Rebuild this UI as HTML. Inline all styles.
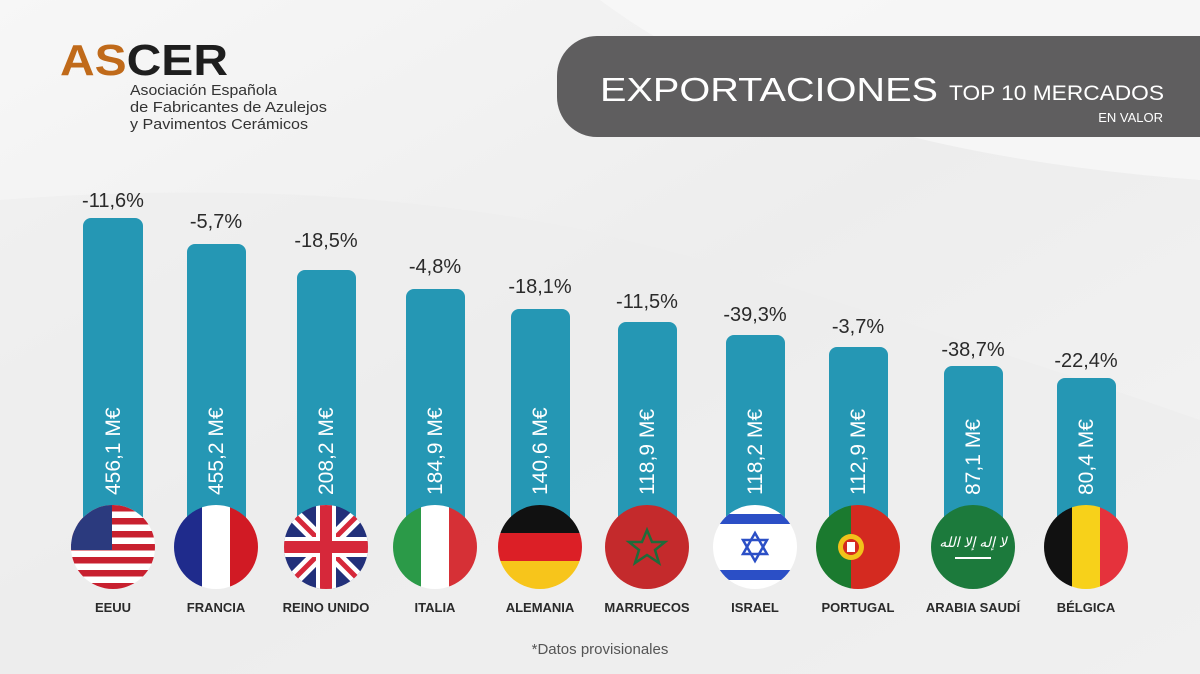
<!DOCTYPE html>
<html><head><meta charset="utf-8"><style>
html,body{margin:0;padding:0;background:#f3f3f3;}
svg{display:block;font-family:"Liberation Sans",sans-serif;}
</style></head><body>
<svg width="1200" height="674" viewBox="0 0 1200 674" xmlns="http://www.w3.org/2000/svg">
<defs>
<linearGradient id="bg" x1="0" y1="0" x2="1" y2="1">
<stop offset="0" stop-color="#f7f7f7"/><stop offset="0.5" stop-color="#ededed"/><stop offset="1" stop-color="#f4f4f4"/></linearGradient>
<clipPath id="c1"><circle cx="113" cy="547" r="42"/></clipPath>
<clipPath id="c2"><circle cx="216" cy="547" r="42"/></clipPath>
<clipPath id="c3"><circle cx="326" cy="547" r="42"/></clipPath>
<clipPath id="c4"><circle cx="435" cy="547" r="42"/></clipPath>
<clipPath id="c5"><circle cx="540" cy="547" r="42"/></clipPath>
<clipPath id="c6"><circle cx="647" cy="547" r="42"/></clipPath>
<clipPath id="c7"><circle cx="755" cy="547" r="42"/></clipPath>
<clipPath id="c8"><circle cx="858" cy="547" r="42"/></clipPath>
<clipPath id="c9"><circle cx="973" cy="547" r="42"/></clipPath>
<clipPath id="c10"><circle cx="1086" cy="547" r="42"/></clipPath>
</defs>
<rect width="1200" height="674" fill="url(#bg)"/>
<path d="M0 200 Q400 170 700 260 T1200 420 L1200 674 L0 674Z" fill="#ececec" opacity="0.6"/>
<path d="M600 0 Q800 150 1200 180 L1200 0Z" fill="#fafafa" opacity="0.7"/>

<!-- logo -->
<text x="60" y="75" font-size="44" font-weight="bold" textLength="168" lengthAdjust="spacingAndGlyphs"><tspan fill="#c06a1a">AS</tspan><tspan fill="#1e1e1e">CER</tspan></text>
<text x="130" y="95" font-size="15" fill="#333" textLength="147" lengthAdjust="spacingAndGlyphs">Asociación Española</text>
<text x="130" y="112" font-size="15" fill="#333" textLength="197" lengthAdjust="spacingAndGlyphs">de Fabricantes de Azulejos</text>
<text x="130" y="129" font-size="15" fill="#333" textLength="178" lengthAdjust="spacingAndGlyphs">y Pavimentos Cerámicos</text>

<!-- header -->
<rect x="557" y="36" width="700" height="101" rx="40" fill="#5f5e5f"/>
<text x="600" y="101" font-size="33" fill="#fff" textLength="338" lengthAdjust="spacingAndGlyphs">EXPORTACIONES</text>
<text x="949" y="100" font-size="21" fill="#fff" textLength="215" lengthAdjust="spacingAndGlyphs">TOP 10 MERCADOS</text>
<text x="1163" y="122" font-size="13" fill="#fff" text-anchor="end">EN VALOR</text>

<!-- bars -->
<g fill="#2597b4">
<rect x="83" y="218" width="60" height="330" rx="8"/>
<rect x="187" y="244" width="59" height="304" rx="8"/>
<rect x="297" y="270" width="59" height="278" rx="8"/>
<rect x="406" y="289" width="59" height="259" rx="8"/>
<rect x="511" y="309" width="59" height="239" rx="8"/>
<rect x="618" y="322" width="59" height="226" rx="8"/>
<rect x="726" y="335" width="59" height="213" rx="8"/>
<rect x="829" y="347" width="59" height="201" rx="8"/>
<rect x="944" y="366" width="59" height="182" rx="8"/>
<rect x="1057" y="378" width="59" height="170" rx="8"/>
</g>
<g font-size="20" fill="#2a2a2a" text-anchor="middle">
<text x="113" y="207">-11,6%</text>
<text x="216" y="228">-5,7%</text>
<text x="326" y="247">-18,5%</text>
<text x="435" y="273">-4,8%</text>
<text x="540" y="293">-18,1%</text>
<text x="647" y="308">-11,5%</text>
<text x="755" y="321">-39,3%</text>
<text x="858" y="333">-3,7%</text>
<text x="973" y="356">-38,7%</text>
<text x="1086" y="367">-22,4%</text>
</g>
<g font-size="21" fill="#fff">
<text transform="translate(120,495) rotate(-90)">456,1 M€</text>
<text transform="translate(223,495) rotate(-90)">455,2 M€</text>
<text transform="translate(333,495) rotate(-90)">208,2 M€</text>
<text transform="translate(442,495) rotate(-90)">184,9 M€</text>
<text transform="translate(547,495) rotate(-90)">140,6 M€</text>
<text transform="translate(654,495) rotate(-90)">118,9 M€</text>
<text transform="translate(762,495) rotate(-90)">118,2 M€</text>
<text transform="translate(865,495) rotate(-90)">112,9 M€</text>
<text transform="translate(980,495) rotate(-90)">87,1 M€</text>
<text transform="translate(1093,495) rotate(-90)">80,4 M€</text>
</g>

<!-- flags -->
<g clip-path="url(#c1)">
<rect x="70" y="505" width="86" height="84" fill="#fff"/>
<g fill="#c8202f">
<rect x="70" y="505" width="86" height="6.5"/><rect x="70" y="518" width="86" height="6.5"/><rect x="70" y="531" width="86" height="6.5"/><rect x="70" y="544" width="86" height="6.5"/><rect x="70" y="557" width="86" height="6.5"/><rect x="70" y="570" width="86" height="6.5"/><rect x="70" y="583" width="86" height="6.5"/></g>
<rect x="70" y="505" width="42" height="45" fill="#2b3a7e"/>
</g>
<g clip-path="url(#c2)"><rect x="174" y="505" width="28" height="84" fill="#1f2b8c"/><rect x="202" y="505" width="28" height="84" fill="#fff"/><rect x="230" y="505" width="28" height="84" fill="#d11a24"/></g>
<g clip-path="url(#c3)"><rect x="284" y="505" width="84" height="84" fill="#22307a"/>
<path d="M284 505 L368 589 M368 505 L284 589" stroke="#fff" stroke-width="14"/>
<path d="M284 505 L368 589 M368 505 L284 589" stroke="#d6283a" stroke-width="5"/>
<rect x="284" y="537" width="84" height="20" fill="#fff"/><rect x="316" y="505" width="20" height="84" fill="#fff"/>
<rect x="284" y="541" width="84" height="12" fill="#d6283a"/><rect x="320" y="505" width="12" height="84" fill="#d6283a"/></g>
<g clip-path="url(#c4)"><rect x="393" y="505" width="28" height="84" fill="#2b9a48"/><rect x="421" y="505" width="28" height="84" fill="#fff"/><rect x="449" y="505" width="28" height="84" fill="#d63036"/></g>
<g clip-path="url(#c5)"><rect x="498" y="505" width="84" height="28" fill="#111"/><rect x="498" y="533" width="84" height="28" fill="#dc1f26"/><rect x="498" y="561" width="84" height="28" fill="#f7c51b"/></g>
<g clip-path="url(#c6)"><rect x="605" y="505" width="84" height="84" fill="#c42a2c"/>
<polygon points="647,530 652,542 665,542 655,550 659,563 647,555 635,563 639,550 629,542 642,542" fill="none" stroke="#1f6b3a" stroke-width="2.5"/></g>
<g clip-path="url(#c7)"><rect x="713" y="505" width="84" height="84" fill="#fff"/><rect x="713" y="514" width="84" height="10" fill="#2b4fc6"/><rect x="713" y="570" width="84" height="10" fill="#2b4fc6"/>
<polygon points="755,533 767,554 743,554" fill="none" stroke="#2b4fc6" stroke-width="2.5"/><polygon points="755,561 767,540 743,540" fill="none" stroke="#2b4fc6" stroke-width="2.5"/></g>
<g clip-path="url(#c8)"><rect x="816" y="505" width="35" height="84" fill="#1b7a2f"/><rect x="851" y="505" width="50" height="84" fill="#d42a20"/><circle cx="851" cy="547" r="13" fill="#f2c21a"/><circle cx="851" cy="547" r="8" fill="#d42a20"/><rect x="847" y="542" width="8" height="10" fill="#fff"/></g>
<g clip-path="url(#c9)"><rect x="931" y="505" width="84" height="84" fill="#1c7a3c"/><text x="973" y="547" font-size="14" fill="#fff" text-anchor="middle" font-style="italic">لا إله إلا الله</text><rect x="955" y="557" width="36" height="2" fill="#fff"/></g>
<g clip-path="url(#c10)"><rect x="1044" y="505" width="28" height="84" fill="#111"/><rect x="1072" y="505" width="28" height="84" fill="#f7d11a"/><rect x="1100" y="505" width="28" height="84" fill="#e5323c"/></g>

<g font-size="13" font-weight="bold" fill="#2a2a2a" text-anchor="middle">
<text x="113" y="612">EEUU</text>
<text x="216" y="612">FRANCIA</text>
<text x="326" y="612">REINO UNIDO</text>
<text x="435" y="612">ITALIA</text>
<text x="540" y="612">ALEMANIA</text>
<text x="647" y="612">MARRUECOS</text>
<text x="755" y="612">ISRAEL</text>
<text x="858" y="612">PORTUGAL</text>
<text x="973" y="612">ARABIA SAUDÍ</text>
<text x="1086" y="612">BÉLGICA</text>
</g>
<text x="600" y="654" font-size="15" fill="#555" text-anchor="middle">*Datos provisionales</text>
</svg>
</body></html>
